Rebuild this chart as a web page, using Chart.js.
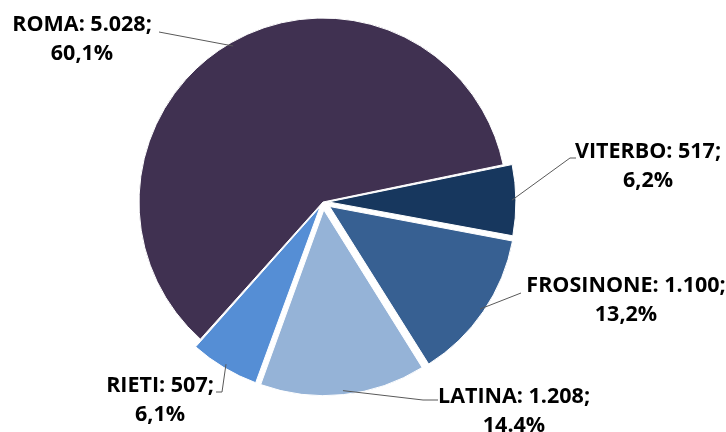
<!DOCTYPE html>
<html>
<head>
<meta charset="utf-8">
<script src="https://cdn.jsdelivr.net/npm/chart.js@4.4.0/dist/chart.umd.min.js"></script>
<style>
  body { margin: 0; background: #fff; }
</style>
</head>
<body>
<canvas id="torta" width="726" height="432"></canvas>
<script>
// province del Lazio e valori
const province = ["ROMA", "VITERBO", "FROSINONE", "LATINA", "RIETI"];
const valori = [5028, 517, 1100, 1208, 507];
const percentuali = ["60,1%", "6,2%", "13,2%", "14.4%", "6,1%"];

const colori = ["#403151", "#17375E", "#376092", "#95B3D7", "#558ED5"];
const stacchi = [0, 22, 32, 32, 22];

// dove stanno le etichette (centro del testo) e i gomiti delle linee guida
const etichette = [
  {x: 82, y: 25, linea: [[159, 32]]},
  {x: 648, y: 152, linea: [[576, 158], [570, 158]]},
  {x: 626, y: 286, linea: [[521, 293]]},
  {x: 514, y: 397, linea: [[438, 400], [423, 400]]},
  {x: 160, y: 386, linea: [[216, 392], [222, 392]]}
];

function formatta(n) {
  return String(n).replace(/\B(?=(\d{3})+(?!\d))/g, ".");
}

// stesso spostamento che usa l'arco quando ha offset
function spostamento(arc) {
  const off = (arc.options.offset || 0) / 4;
  const meta = (arc.startAngle + arc.endAngle) / 2;
  const circ = arc.endAngle - arc.startAngle;
  const fix = 1 - Math.sin(Math.min(Math.PI, circ));
  const d = off * (1 + fix);
  return [Math.cos(meta) * d, Math.sin(meta) * d];
}

const etichettePlugin = {
  id: "etichette",
  afterDatasetsDraw(chart) {
    const ctx = chart.ctx;
    const archi = chart.getDatasetMeta(0).data;
    ctx.save();
    archi.forEach((arc, i) => {
      const et = etichette[i];
      const sp = spostamento(arc);
      const meta = (arc.startAngle + arc.endAngle) / 2;
      const r = arc.outerRadius - 4;
      const ax = arc.x + sp[0] + Math.cos(meta) * r;
      const ay = arc.y + sp[1] + Math.sin(meta) * r;

      ctx.strokeStyle = "#595959";
      ctx.lineWidth = 1;
      ctx.beginPath();
      ctx.moveTo(et.linea[0][0], et.linea[0][1]);
      for (let k = 1; k < et.linea.length; k++) ctx.lineTo(et.linea[k][0], et.linea[k][1]);
      ctx.lineTo(ax, ay);
      ctx.stroke();

      ctx.fillStyle = "#000";
      ctx.font = "bold 21.5px 'Open Sans'";
      ctx.textAlign = "center";
      ctx.textBaseline = "middle";
      ctx.fillText(province[i] + ": " + formatta(valori[i]) + ";", et.x, et.y);
      ctx.fillText(percentuali[i], et.x, et.y + 29);
    });
    ctx.restore();
  }
};

new Chart(document.getElementById("torta"), {
  type: "pie",
  data: {
    labels: province,
    datasets: [{
      data: valori,
      backgroundColor: colori,
      borderColor: "#ffffff",
      borderWidth: 1,
      offset: stacchi
    }]
  },
  options: {
    responsive: false,
    animation: false,
    rotation: 221.8,
    radius: 184,
    layout: { padding: { left: 0, right: 80, top: 0, bottom: 28 } },
    plugins: {
      legend: { display: false },
      tooltip: { enabled: false }
    }
  },
  plugins: [etichettePlugin]
});
</script>
</body>
</html>
